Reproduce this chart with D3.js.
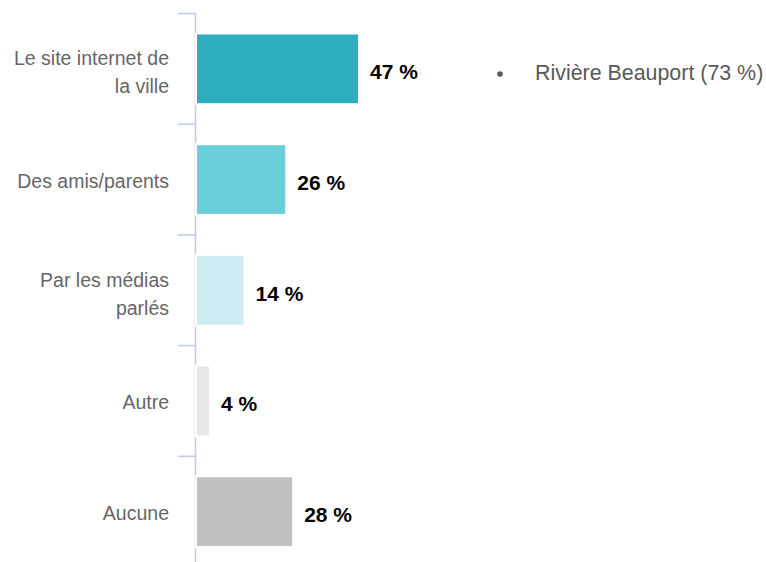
<!DOCTYPE html>
<html>
<head>
<meta charset="utf-8">
<script src="https://cdn.jsdelivr.net/npm/d3@7"></script>
<style>
  body { margin: 0; background: #fff; }
  svg { display: block; font-family: "Liberation Sans", Arial, sans-serif; }
</style>
</head>
<body>
<svg id="chart" width="766" height="562"></svg>
<script>
// data
const categories = ["Le site internet de la ville", "Des amis/parents", "Par les médias parlés", "Autre", "Aucune"];
const labelLines = [["Le site internet de", "la ville"], ["Des amis/parents"], ["Par les médias", "parlés"], ["Autre"], ["Aucune"]];
const values = [47, 26, 14, 4, 28];
const legendLabels = ["Rivière Beauport (73 %)"];

const palette = ["#2eadbe", "#6acfdb", "#cdedf3", "#e7e7e7", "#c0c0c0"];

const svg = d3.select("#chart");

// band edges (ticks) and bars share the same step
const yEdge = d3.scaleBand().domain(categories).range([13, 566.5]).padding(0);
const y = d3.scaleBand().domain(categories).range([13, 566.5])
  .paddingInner(0.37).paddingOuter(0.185);
const x = d3.scaleLinear().domain([0, 100]).range([196, 543]);

// axis line + ticks
const axisColor = "#c3cee6";
svg.append("line")
  .attr("x1", 195.5).attr("x2", 195.5)
  .attr("y1", 13).attr("y2", 562)
  .attr("stroke", axisColor).attr("stroke-width", 1.6);

svg.selectAll(".tick-l")
  .data(categories)
  .enter()
  .append("line")
  .attr("class", "tick-l")
  .attr("x1", 178).attr("x2", 196)
  .attr("y1", d => yEdge(d) + 0.5)
  .attr("y2", d => yEdge(d) + 0.5)
  .attr("stroke", axisColor).attr("stroke-width", 1.6);

// bars
svg.selectAll(".bar")
  .data(values)
  .enter()
  .append("rect")
  .attr("class", "bar")
  .attr("x", x(0))
  .attr("y", (d, i) => y(categories[i]))
  .attr("width", d => x(d) - x(0))
  .attr("height", y.bandwidth() + 1)
  .attr("fill", (d, i) => palette[i])
  .attr("stroke", "#fff")
  .attr("stroke-width", 2);

// value labels
svg.selectAll(".val")
  .data(values)
  .enter()
  .append("text")
  .attr("class", "val")
  .attr("x", d => x(d) + 11)
  .attr("y", (d, i) => y(categories[i]) + y.bandwidth() / 2 + 11)
  .attr("font-size", 21)
  .attr("font-weight", "bold")
  .attr("fill", "#000")
  .text(d => d + " %");

// category labels
const cat = svg.selectAll(".cat")
  .data(categories)
  .enter()
  .append("text")
  .attr("class", "cat")
  .attr("text-anchor", "end")
  .attr("font-size", 19.5)
  .attr("fill", "#666");

cat.each(function (d, i) {
  const lines = labelLines[i];
  const c = y(d) + y.bandwidth() / 2;
  const first = lines.length === 1 ? c + 9 : c - 3;
  d3.select(this).selectAll("tspan")
    .data(lines)
    .enter()
    .append("tspan")
    .attr("x", 169)
    .attr("y", (l, j) => first + j * 28)
    .text(l => l);
});

// legend
const legend = svg.append("g").attr("transform", "translate(500,74)");
legend.append("circle").attr("r", 2.8).attr("fill", "#595959");
legend.selectAll("text")
  .data(legendLabels)
  .enter()
  .append("text")
  .attr("x", 35)
  .attr("y", 6)
  .attr("font-size", 21.4)
  .attr("fill", "#595959")
  .text(d => d);
</script>
</body>
</html>
